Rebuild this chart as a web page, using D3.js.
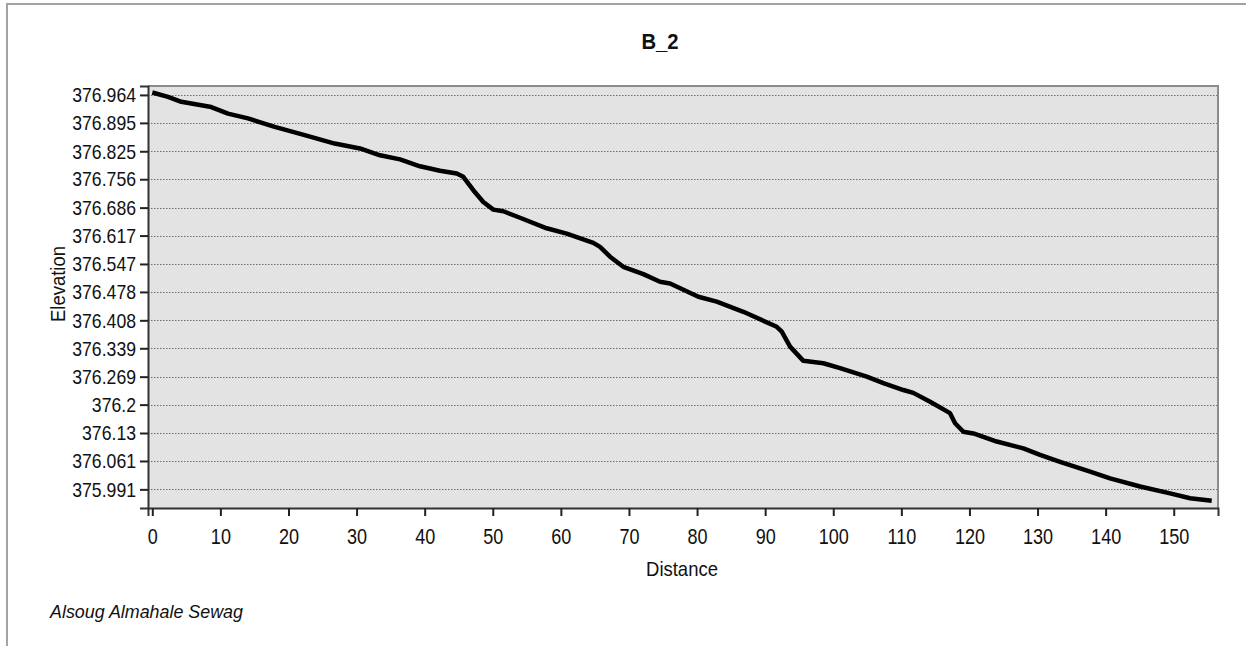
<!DOCTYPE html>
<html>
<head>
<meta charset="utf-8">
<script src="https://cdn.jsdelivr.net/npm/d3@7/dist/d3.min.js"></script>
<style>
  html, body { margin: 0; padding: 0; background: #ffffff; }
  svg { display: block; }
  text { font-family: "Liberation Sans", Arial, sans-serif; fill: #111; }
</style>
</head>
<body>
<svg id="chart" width="1246" height="646"></svg>
<script>
// Profile B_2: distance along the section (m) and ground elevation
const distance = [0, 2.31, 4.26, 8.66, 11.12, 14.05, 17.98, 22.38, 26.79, 30.5,
  33.44, 36.38, 39.31, 42.25, 44.71, 45.67, 47.14, 48.61, 50.08, 51.55,
  54.0, 57.92, 60.86, 64.77, 65.75, 67.22, 69.17, 72.11, 74.56, 76.03,
  80.19, 82.89, 86.8, 91.7, 92.44, 93.66, 95.61, 98.55, 101.0, 104.92,
  107.36, 110.3, 111.76, 114.22, 117.15, 117.89, 119.11, 120.58, 124.01, 127.92,
  130.37, 133.31, 137.72, 140.65, 145.06, 149.46, 152.4, 155.58];
const elevation = [376.970, 376.959, 376.947, 376.934, 376.918, 376.906, 376.885, 376.865, 376.844, 376.832,
  376.815, 376.805, 376.788, 376.777, 376.770, 376.762, 376.729, 376.700, 376.681, 376.677,
  376.661, 376.635, 376.622, 376.599, 376.589, 376.565, 376.540, 376.522, 376.503, 376.499,
  376.466, 376.454, 376.429, 376.392, 376.380, 376.343, 376.308, 376.302, 376.290, 376.269,
  376.253, 376.236, 376.229, 376.207, 376.179, 376.154, 376.133, 376.129, 376.109, 376.092,
  376.076, 376.059, 376.035, 376.018, 375.998, 375.981, 375.969, 375.963];

// Axis ticks
const elevTicks = [376.964, 376.895, 376.825, 376.756, 376.686, 376.617, 376.547, 376.478,
  376.408, 376.339, 376.269, 376.2, 376.13, 376.061, 375.991];
const elevTickLabels = ["376.964", "376.895", "376.825", "376.756", "376.686", "376.617", "376.547", "376.478",
  "376.408", "376.339", "376.269", "376.2", "376.13", "376.061", "375.991"];
const distTicks = [0, 10, 20, 30, 40, 50, 60, 70, 80, 90, 100, 110, 120, 130, 140, 150];

const title = "B_2";
const xTitle = "Distance";
const yTitle = "Elevation";
const footer = "Alsoug Almahale Sewag";

const svg = d3.select("#chart");
const plot = { left: 148, top: 86, right: 1218, bottom: 508 };

const x = d3.scaleLinear().domain([-0.63, 156.5]).range([plot.left, plot.right]);
const y = d3.scaleLinear().domain([375.945, 376.986]).range([plot.bottom, plot.top]);

// Narrow the glyphs horizontally, the way the graph renders its labels
function condense(sel, factor) {
  sel.each(function () {
    const w = this.getComputedTextLength();
    if (w > 0) {
      d3.select(this).attr("textLength", w * factor).attr("lengthAdjust", "spacingAndGlyphs");
    }
  });
}

// Outer frame
svg.append("path")
  .attr("d", "M7,646 L7,4 L1246,4")
  .attr("fill", "none")
  .attr("stroke", "#a3a3a3")
  .attr("stroke-width", 2);

// Plot background
svg.append("rect")
  .attr("x", plot.left).attr("y", plot.top)
  .attr("width", plot.right - plot.left).attr("height", plot.bottom - plot.top)
  .attr("fill", "#e3e3e3");

// Horizontal dotted grid
svg.append("g")
  .selectAll("line")
  .data(elevTicks)
  .join("line")
  .attr("x1", plot.left).attr("x2", plot.right)
  .attr("y1", d => Math.round(y(d)) + 0.5).attr("y2", d => Math.round(y(d)) + 0.5)
  .attr("stroke", "#6f6f6f")
  .attr("stroke-width", 1)
  .attr("stroke-dasharray", "1.5,1.5");

// Plot border: light top/right, dark left/bottom
svg.append("path")
  .attr("d", `M${plot.left},${plot.top} L${plot.right},${plot.top} L${plot.right},${plot.bottom}`)
  .attr("fill", "none").attr("stroke", "#8c8c8c").attr("stroke-width", 2);

// Profile line
const line = d3.line()
  .x((d, i) => x(distance[i]))
  .y(d => y(d));

svg.append("path")
  .datum(elevation)
  .attr("d", line)
  .attr("fill", "none")
  .attr("stroke", "#000")
  .attr("stroke-width", 4.5)
  .attr("stroke-linejoin", "round");

// Y axis
const yAxis = d3.axisLeft(y)
  .tickValues(elevTicks)
  .tickFormat((d, i) => elevTickLabels[i])
  .tickSize(8)
  .tickPadding(4);

const gy = svg.append("g")
  .attr("transform", `translate(${plot.left},0)`)
  .call(yAxis);
gy.select(".domain").attr("stroke", "#333").attr("stroke-width", 2);
gy.selectAll(".tick line").attr("stroke", "#222").attr("stroke-width", 2);
gy.selectAll(".tick text")
  .attr("font-size", 21)
  .attr("font-family", "Liberation Sans, Arial, sans-serif")
  .attr("fill", "#111")
  .call(condense, 0.84);

// X axis
const xAxis = d3.axisBottom(x)
  .tickValues(distTicks)
  .tickFormat(d3.format("d"))
  .tickSize(8)
  .tickPadding(12);

const gx = svg.append("g")
  .attr("transform", `translate(0,${plot.bottom})`)
  .call(xAxis);
gx.select(".domain").attr("stroke", "#333").attr("stroke-width", 2);
gx.selectAll(".tick line").attr("stroke", "#222").attr("stroke-width", 2);
gx.selectAll(".tick text")
  .attr("font-size", 22)
  .attr("font-family", "Liberation Sans, Arial, sans-serif")
  .attr("fill", "#111")
  .call(condense, 0.82);

// Title
svg.append("text")
  .attr("x", 660).attr("y", 49)
  .attr("text-anchor", "middle")
  .attr("font-size", 22)
  .attr("font-weight", "bold")
  .text(title)
  .call(condense, 0.92);

// Axis titles
svg.append("text")
  .attr("x", 682).attr("y", 576)
  .attr("text-anchor", "middle")
  .attr("font-size", 21)
  .text(xTitle)
  .call(condense, 0.88);

svg.append("text")
  .attr("transform", "translate(65,284) rotate(-90)")
  .attr("text-anchor", "middle")
  .attr("font-size", 21)
  .text(yTitle)
  .call(condense, 0.88);

// Footer
svg.append("text")
  .attr("x", 50).attr("y", 618)
  .attr("font-size", 19)
  .attr("font-style", "italic")
  .text(footer)
  .call(condense, 0.94);
</script>
</body>
</html>
